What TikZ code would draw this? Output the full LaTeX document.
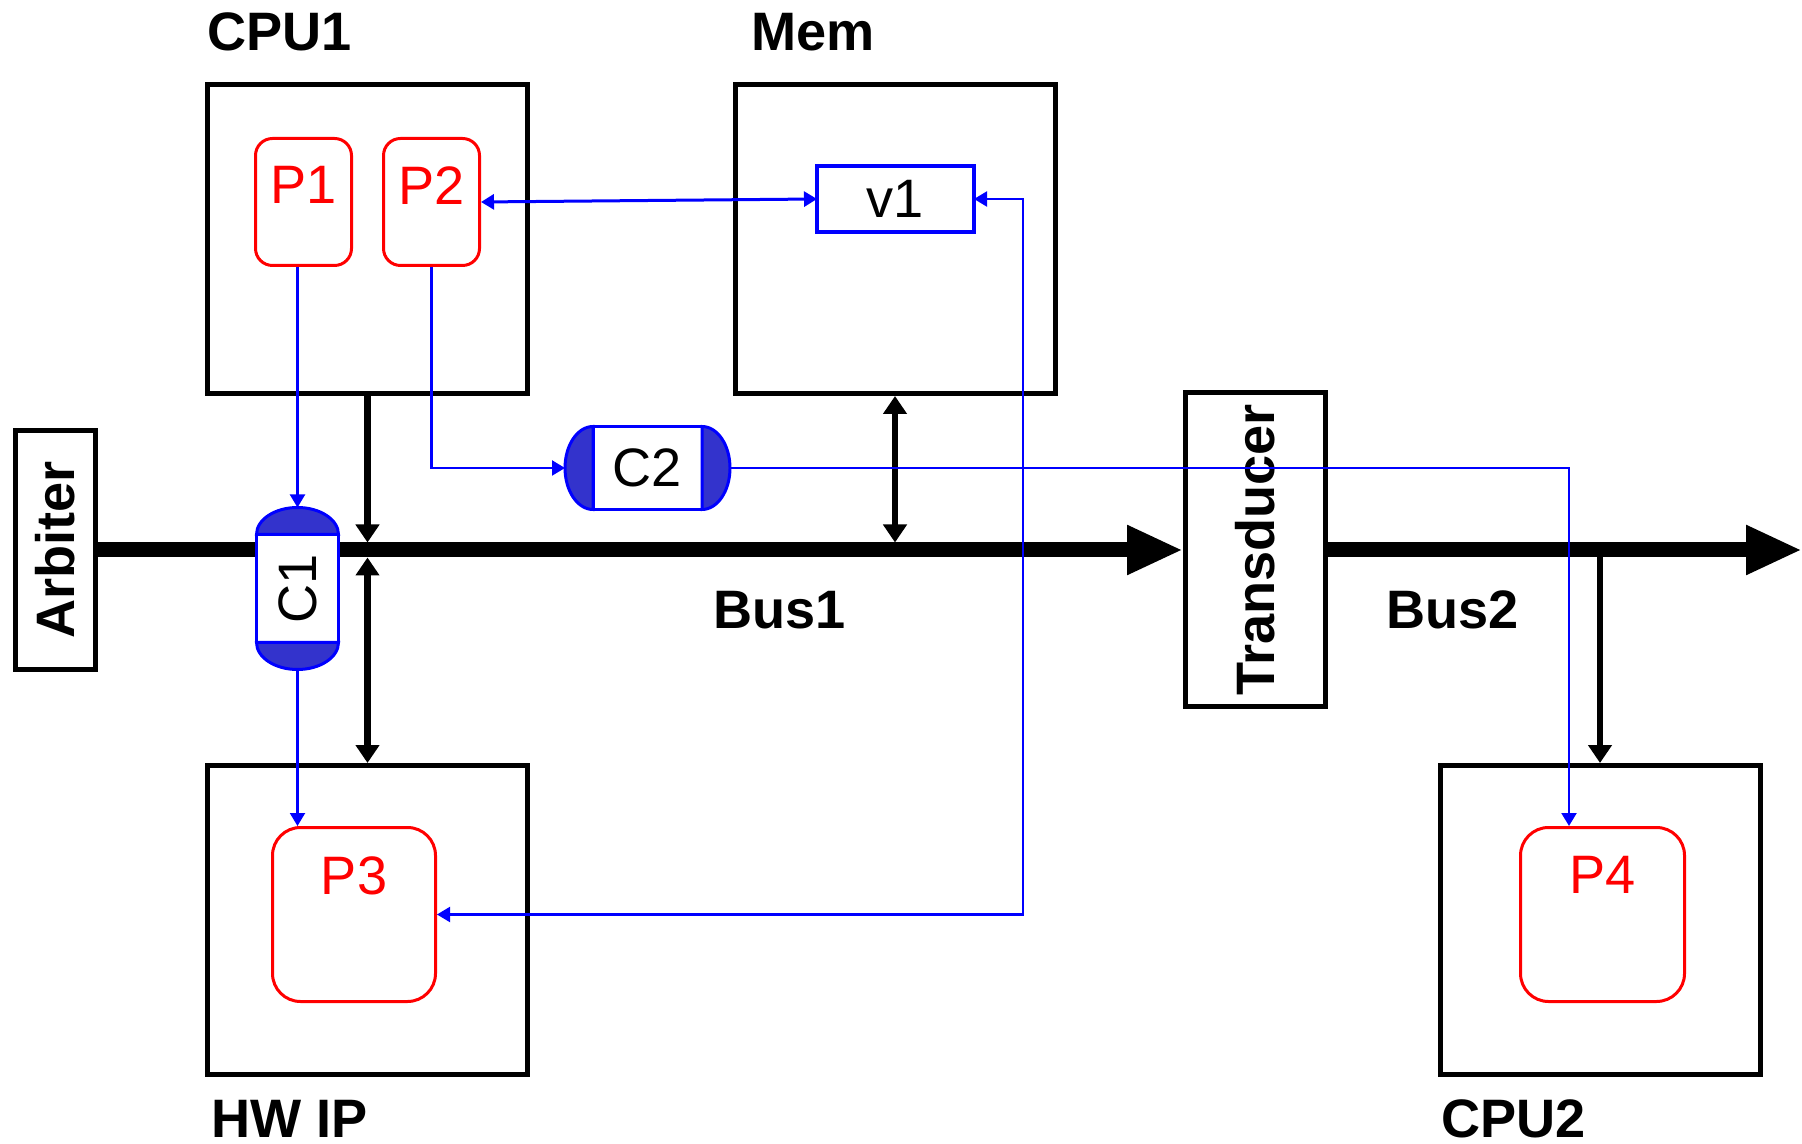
\documentclass[tikz,border=0pt]{standalone}
\usepackage{fontspec}
\setmainfont{Liberation Sans}
\usetikzlibrary{arrows.meta,positioning,calc}
\definecolor{procred}{HTML}{FF0000}
\definecolor{chanblue}{HTML}{0000FF}
\definecolor{chanfill}{HTML}{3333CC}
\tikzset{
  unit/.style={draw=black,line width=.05cm,minimum width=3.2cm,minimum height=3.09cm,inner sep=0pt},
  tallbox/.style={draw=black,line width=.05cm,fill=white,inner sep=0pt,font=\fontsize{15.4pt}{18pt}\selectfont\bfseries},
  proc/.style={draw=procred,line width=.03cm,rounded corners=.17cm,inner sep=0pt,minimum width=.96cm,minimum height=1.27cm},
  chan/.style={draw=chanblue,line width=.03cm,fill=white,inner sep=0pt,outer sep=0pt,font=\fontsize{15.4pt}{18pt}\selectfont},
  chancap/.style={draw=chanblue,line width=.03cm,fill=chanfill},
  unitlabel/.style={font=\fontsize{15.4pt}{18pt}\selectfont\bfseries,inner sep=0pt},
  proclabel/.style={text=procred,font=\fontsize{15.4pt}{18pt}\selectfont,inner sep=0pt},
  busline/.style={-{Triangle[length=5.6mm,width=4.6mm]},line width=.15cm},
  buslink/.style={>={Triangle[length=1.8mm,width=2.3mm]},line width=.065cm},
  msg/.style={>={Triangle[length=1.3mm,width=1.5mm]},draw=chanblue,line width=.022cm},
}

\begin{document}
\begin{tikzpicture}
			\useasboundingbox (0,0) rectangle (18.02,11.43);
			\node[unit] (CPU1) at (3.675,9.04) {};
			\node[unit] (Mem) at (8.95,9.04) {};
			\node[unit] (HWIP) at (3.675,2.23) {};
			\node[unit] (CPU2) at (16.0,2.23) {};
			\node[unitlabel,anchor=base west] (CPU1label) at (2.07,10.92) {CPU1};
			\node[unitlabel,anchor=base west] (Memlabel) at (7.51,10.92) {Mem};
			\node[unitlabel,anchor=base west] (HWIPlabel) at (2.11,.06) {HW IP};
			\node[unitlabel,anchor=base west] (CPU2label) at (14.41,.06) {CPU2};
			\node[unitlabel,anchor=base west] (Bus1label) at (7.13,5.14) {Bus1};
			\node[unitlabel,anchor=base west] (Bus2label) at (13.86,5.14) {Bus2};
			\node[proc] (P1) at (3.035,9.41) {};
			\node[proc] (P2) at (4.315,9.41) {};
			\node[proc,minimum width=1.63cm,minimum height=1.74cm,rounded corners=.28cm] (P3) at (3.54,2.285) {};
			\node[proc,minimum width=1.64cm,minimum height=1.74cm,rounded corners=.28cm] (P4) at (16.025,2.285) {};
			\node[proclabel,anchor=north] (P1text) at ([yshift=-.29cm]P1.north) {P1};
			\node[proclabel,anchor=north] (P2text) at ([yshift=-.29cm]P2.north) {P2};
			\node[proclabel,anchor=north] (P3text) at ([yshift=-.30cm]P3.north) {P3};
			\node[proclabel,anchor=north] (P4text) at ([yshift=-.30cm]P4.north) {P4};
			\node[chan,line width=.04cm,minimum width=1.57cm,minimum height=.66cm] (v1) at (8.955,9.44) {v1};
			\node[tallbox,minimum width=.8cm,minimum height=2.39cm] (Arbiter) at (.555,5.93) {\rotatebox{90}{Arbiter}};
			\node[tallbox,minimum width=1.4cm,minimum height=3.14cm] (Transducer) at (12.555,5.93) {\rotatebox{90}{Transducer}};
			\coordinate (bus) at (0,5.93);
			\coordinate (busend) at (18.02,5.93);
			\draw[busline] (Arbiter.east) -- (Transducer.west);
			\draw[busline] (Transducer.east) -- (busend);
			\draw[buslink,->,shorten >=.75mm] (CPU1.south) -- (CPU1.south |- bus);
			\draw[buslink,<->,shorten <=.75mm] (HWIP.north |- bus) -- (HWIP.north);
			\draw[buslink,<->,shorten >=.75mm] (Mem.south) -- (Mem.south |- bus);
			\draw[buslink,->] (CPU2.north |- bus) -- (CPU2.north);
			\node[chan,minimum width=.82cm,minimum height=1.08cm] (C1) at (2.975,5.545) {\rotatebox{90}{C1}};
			\node[chan,minimum width=1.09cm,minimum height=.83cm] (C2) at (6.475,6.75) {C2};
			\draw[chancap] (C1.north west) arc[start angle=180,end angle=0,x radius=.41cm,y radius=.27cm] -- cycle;
			\draw[chancap] (C1.south west) arc[start angle=180,end angle=360,x radius=.41cm,y radius=.27cm] -- cycle;
			\draw[chancap] (C2.north west) arc[start angle=90,end angle=270,x radius=.28cm,y radius=.415cm] -- cycle;
			\draw[chancap] (C2.north east) arc[start angle=90,end angle=-90,x radius=.28cm,y radius=.415cm] -- cycle;
			\coordinate (v1r) at (10.23,9.44);
			\draw[msg,<->,line width=.03cm] (P2.east) -- (v1.west);
			\draw[msg,<->] (v1.east) -- (v1r) |- (P3.east);
			\draw[msg,->] (C1.north |- P1.south) -- ([yshift=.27cm]C1.north);
			\draw[msg,->] ([yshift=-.27cm]C1.south) -- (C1.south |- P3.north);
			\draw[msg,->] (P2.south) |- ([xshift=-.28cm]C2.west);
			\draw[msg,->] ([xshift=.28cm]C2.east) -| ([xshift=-.335cm]P4.north);
		\end{tikzpicture}
\end{document}
